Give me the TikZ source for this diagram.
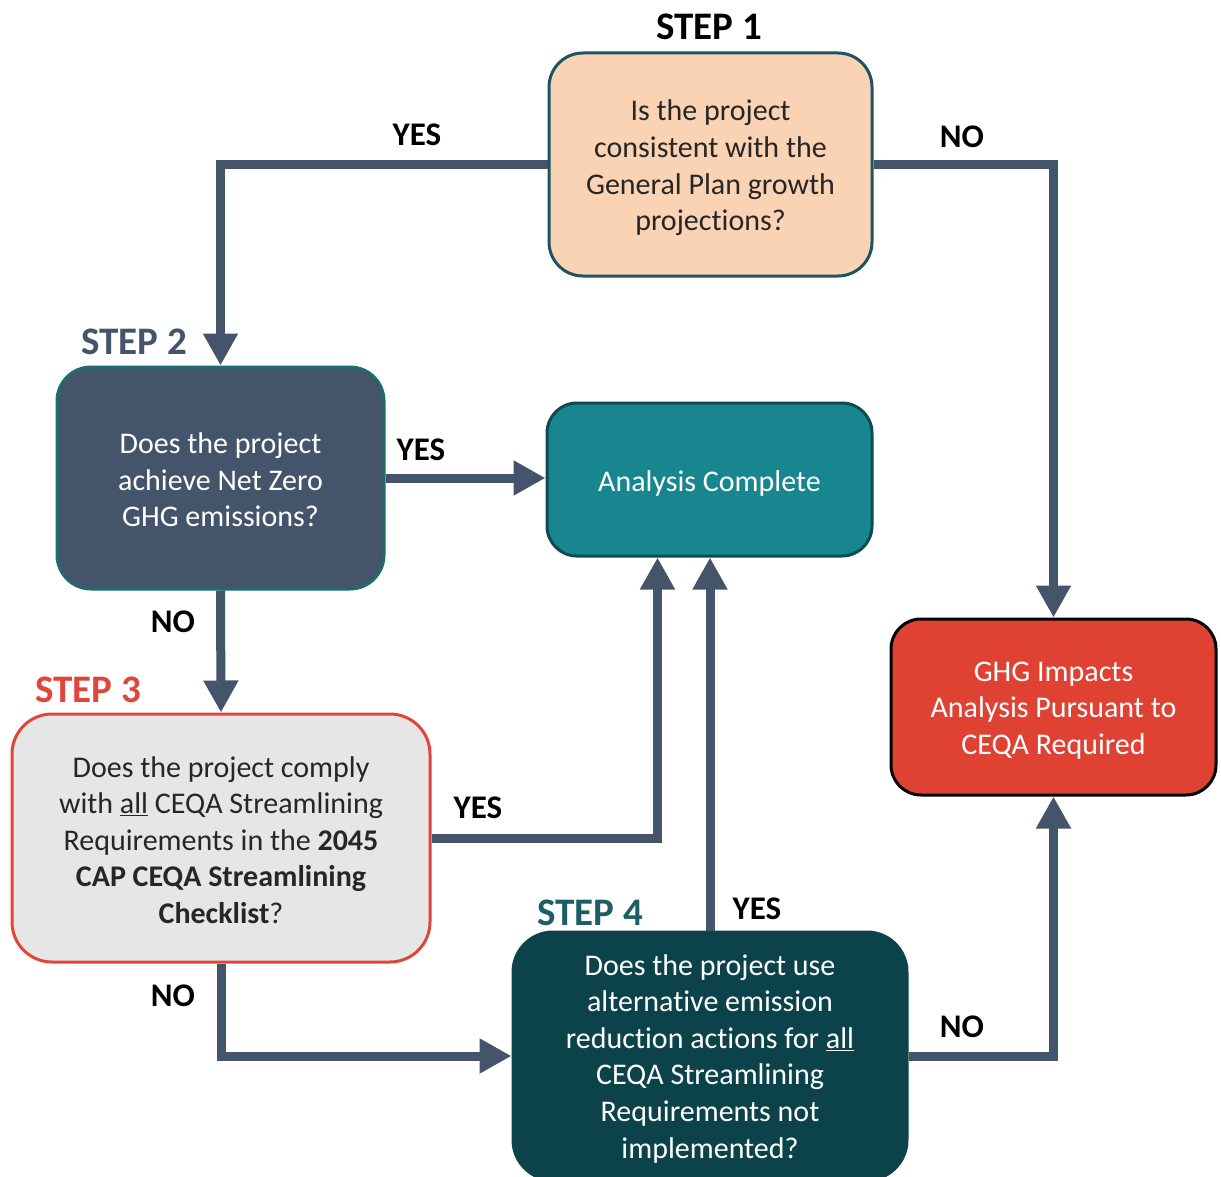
\documentclass[tikz,border=0pt]{standalone}
\usepackage{fontspec}
\setmainfont[Ligatures=NoCommon]{Carlito}
\usetikzlibrary{arrows.meta}
\definecolor{slate}{HTML}{44546A}
\definecolor{peach}{HTML}{FAD3B4}
\definecolor{darkteal}{HTML}{1E5461}
\definecolor{tealA}{HTML}{17868F}
\definecolor{tealAb}{HTML}{0E4B50}
\definecolor{greyf}{HTML}{E7E6E6}
\definecolor{redb}{HTML}{E0453A}
\definecolor{step4f}{HTML}{0C434A}
\definecolor{ghgf}{HTML}{DF4233}
\definecolor{step4t}{HTML}{1C5E65}
\definecolor{step2b}{HTML}{1F6B6E}
\begin{document}
\begin{tikzpicture}[x=1pt,y=-1pt,
  box/.style={rectangle,rounded corners=34pt,line width=3pt,inner sep=0pt},
  boxtext/.style={inner sep=0pt,align=center,font=\fontsize{30}{36.6}\selectfont},
  conn/.style={slate,line width=9pt,-{Triangle[width=33pt,length=32pt]}},
  lbl/.style={font=\fontsize{33}{36}\selectfont\bfseries},
  steplbl/.style={font=\fontsize{39}{42}\selectfont\bfseries}]
\useasboundingbox (0,0) rectangle (1221,1177);
% boxes
\node[box,fill=peach,draw=darkteal,minimum width=323pt,minimum height=223pt] (s1) at (710.5,164.5) {};
\node[box,fill=slate,draw=step2b,minimum width=327pt,minimum height=222pt] (s2) at (220.5,478) {};
\node[box,rounded corners=30pt,fill=tealA,draw=tealAb,minimum width=325pt,minimum height=153pt] (ac) at (709.5,479.5) {};
\node[box,rounded corners=40pt,fill=greyf,draw=redb,minimum width=418pt,minimum height=248pt] (s3) at (221,838) {};
\node[box,rounded corners=40pt,fill=step4f,draw=step4f,minimum width=394pt,minimum height=248pt] (s4) at (710,1056) {};
\node[box,rounded corners=30pt,fill=ghgf,draw=black,minimum width=325pt,minimum height=176pt] (ghg) at (1053.5,707) {};
% box texts
\node[boxtext,text=black!85] (s1t) at ([yshift=-3.5pt]s1.center)
  {Is the project\\consistent with the\\General Plan growth\\projections?};
\node[boxtext,text=white] (s2t) at ([yshift=-2pt]s2.center)
  {Does the project\\achieve Net Zero\\GHG emissions?};
\node[boxtext,text=white] (act) at ([yshift=-3.5pt]ac.center) {Analysis Complete};
\node[boxtext,text=black!85] (s3t) at ([yshift=-2pt]s3.center)
  {Does the project comply\\with \underline{all} CEQA Streamlining\\Requirements in the \textbf{2045}\\\textbf{CAP CEQA Streamlining}\\\textbf{Checklist}?};
\node[boxtext,text=white] (s4t) at ([yshift=-2.5pt]s4.center)
  {Does the project use\\alternative emission\\reduction actions for \underline{all}\\CEQA Streamlining\\Requirements not\\implemented?};
\node[boxtext,text=white] (ghgt) at ([yshift=-3.5pt]ghg.center)
  {GHG Impacts\\Analysis Pursuant to\\CEQA Required};
% step labels
\node[steplbl,text=black] (t1) at (709,27) {STEP 1};
\node[steplbl,text=slate] (t2) at (134,342) {STEP 2};
\node[steplbl,text=redb] (t3) at (88,690) {STEP 3};
\node[steplbl,text=step4t] (t4) at (590,913) {STEP 4};
% connectors
\coordinate (acin1) at ([xshift=-52pt]ac.south);
\draw[conn] (s1.west) -| (s2.north);
\draw[conn] (s1.east) -| (ghg.north);
\draw[conn] (s2.east) -- (s2.east -| ac.west);
\draw[conn] (s2.south) -- (s3.north);
\draw[conn] (s3.east) -| (acin1);
\draw[conn] (s3.south) |- (s4.west);
\draw[conn] (s4.north) -- (s4.north |- ac.south);
\draw[conn] (s4.east) -| (ghg.south);
% connector labels
\node[lbl] (l1) at (417,135) {YES};
\node[lbl] (l2) at (962,137) {NO};
\node[lbl] (l3) at (421,450) {YES};
\node[lbl] (l4) at (173,622) {NO};
\node[lbl] (l5) at (478,808) {YES};
\node[lbl] (l6) at (173,996) {NO};
\node[lbl] (l7) at (757,909) {YES};
\node[lbl] (l8) at (962,1027) {NO};
\end{tikzpicture}
\end{document}
